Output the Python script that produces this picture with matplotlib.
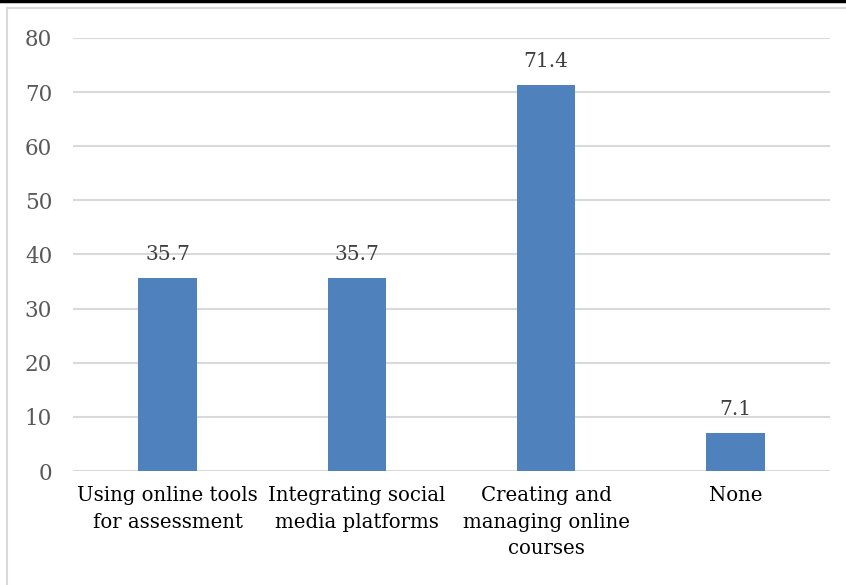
import matplotlib.pyplot as plt
from matplotlib.patches import Rectangle
from matplotlib.lines import Line2D

categories = ["Using online tools\nfor assessment",
              "Integrating social\nmedia platforms",
              "Creating and\nmanaging online\ncourses",
              "None"]
values = [35.7, 35.7, 71.4, 7.1]
yticks = [0, 10, 20, 30, 40, 50, 60, 70, 80]

plt.rcParams['font.family'] = ['DejaVu Serif']

fig = plt.figure(figsize=(8.46, 5.85), dpi=100)

# outer frame of the chart area and the rule above it
fig.patches.append(Rectangle((7 / 846, -0.1), 1.0, (585 - 8) / 585 + 0.1,
                             transform=fig.transFigure, fill=False,
                             edgecolor='#d9d9d9', linewidth=1.5))
fig.lines.append(Line2D([0, 1], [1 - 1 / 585, 1 - 1 / 585], transform=fig.transFigure,
                        color='black', linewidth=2.5))

ax = fig.add_axes([73 / 846, (585 - 471) / 585, (830 - 73) / 846, (471 - 38) / 585])

x = range(len(values))
bars = ax.bar(x, values, width=0.31, color='#4f81bd', zorder=3)

for xi, v in zip(x, values):
    ax.annotate(f"{v}", (xi, v), xytext=(0, 10), textcoords='offset points',
                ha='center', va='bottom', fontsize=14.5, color='#404040')

ax.set_xlim(-0.5, len(values) - 0.5)
ax.set_ylim(0, 80)
ax.set_yticks(yticks)
ax.set_xticks(list(x))
ax.set_xticklabels(categories, fontsize=14.2, color='black', linespacing=1.5)
ax.tick_params(axis='y', labelsize=15.5, labelcolor='#595959', length=0, pad=15)
ax.tick_params(axis='x', length=0, pad=11)
ax.grid(axis='y', color='#d9d9d9', linewidth=1.5, zorder=0)
for s in ax.spines.values():
    s.set_visible(False)

fig.savefig("out.png", dpi=100)
